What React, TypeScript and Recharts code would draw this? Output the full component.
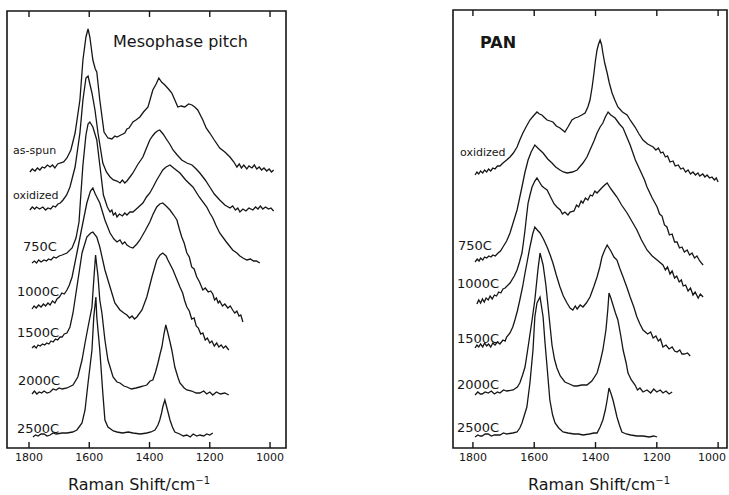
import React from 'react';
import { LineChart, Line, XAxis, YAxis, ReferenceArea, ReferenceLine } from 'recharts';

type Pt = [number, number];

// Raman shift tick values (cm^-1)
const shiftTicks = [1800, 1600, 1400, 1200, 1000];

// ---------- Mesophase pitch fibres: [shift, intensity above own baseline] ----------
const pitchLabels = ['as-spun', 'oxidized', '750C', '1000C', '1500C', '2000C', '2500C'];
const pitchOffsets = [276, 238, 185, 139, 100, 54, 10];

const mpAsSpun: Pt[] = [[1797,0],[1789,3],[1780,1],[1772,4],[1764,2],[1756,5],[1748,4],[1739,7],[1730,5],[1722,7],[1714,4],[1705,8],[1697,9],[1685,10],[1674,14],[1661,22],[1647,39],[1631,72],[1621,112],[1611,135],[1604,143],[1598,135],[1588,112],[1580,103],[1575,100],[1565,72],[1551,40],[1538,34],[1525,33],[1515,36],[1508,35],[1495,37],[1482,39],[1475,43],[1468,44],[1455,50],[1445,52],[1432,55],[1420,60],[1405,65],[1389,82],[1378,88],[1369,94],[1360,90],[1349,87],[1337,83],[1326,79],[1316,72],[1306,65],[1295,66],[1283,65],[1270,68],[1259,67],[1250,65],[1240,62],[1223,52],[1212,44],[1200,39],[1185,32],[1167,24],[1150,20],[1133,15],[1120,10],[1110,5],[1102,8],[1095,4],[1087,7],[1077,3],[1070,6],[1060,4],[1052,7],[1044,3],[1036,5],[1028,2],[1020,4],[1011,1],[1003,3],[995,0],[988,2]];
const mpOxidized: Pt[] = [[1797,0],[1789,3],[1781,1],[1775,3],[1765,1],[1754,3],[1745,0],[1737,2],[1728,1],[1720,4],[1712,3],[1704,6],[1696,7],[1687,10],[1675,15],[1664,23],[1647,43],[1631,77],[1621,110],[1611,132],[1604,134],[1598,126],[1591,117],[1581,100],[1571,77],[1555,47],[1543,38],[1531,33],[1520,30],[1508,29],[1498,27],[1490,30],[1482,27],[1475,29],[1465,33],[1455,37],[1440,45],[1422,53],[1410,62],[1399,70],[1390,74],[1382,77],[1374,79],[1366,80],[1355,76],[1342,70],[1333,66],[1322,60],[1308,55],[1293,50],[1276,47],[1259,45],[1245,41],[1233,37],[1215,30],[1200,23],[1185,16],[1167,10],[1150,5],[1133,2],[1124,4],[1115,0],[1107,2],[1100,-2],[1090,1],[1080,-1],[1070,2],[1057,0],[1048,3],[1040,1],[1032,4],[1024,1],[1015,3],[1005,1],[997,2],[988,-1]];
const mp750: Pt[] = [[1790,0],[1782,2],[1775,0],[1768,3],[1760,1],[1750,3],[1742,2],[1735,4],[1727,3],[1718,6],[1710,5],[1700,7],[1690,8],[1674,10],[1657,15],[1644,25],[1634,41],[1628,68],[1621,98],[1611,128],[1604,139],[1598,141],[1588,136],[1575,123],[1565,98],[1553,68],[1540,56],[1531,51],[1525,53],[1520,48],[1513,50],[1508,46],[1500,49],[1490,47],[1482,50],[1475,48],[1465,51],[1455,51],[1440,55],[1422,60],[1410,66],[1399,70],[1388,76],[1376,83],[1366,88],[1356,93],[1345,96],[1332,98],[1320,95],[1299,90],[1280,83],[1256,76],[1235,66],[1210,56],[1200,50],[1190,45],[1180,38],[1167,30],[1145,21],[1124,13],[1110,10],[1100,7],[1090,5],[1077,3],[1065,4],[1055,2],[1045,2],[1034,0]];
const mp1000: Pt[] = [[1790,0],[1783,3],[1776,1],[1768,4],[1760,2],[1752,5],[1745,3],[1737,6],[1730,4],[1722,8],[1714,6],[1707,10],[1699,12],[1691,16],[1683,15],[1674,19],[1666,24],[1657,32],[1641,56],[1624,82],[1608,106],[1596,118],[1588,121],[1580,115],[1565,106],[1548,89],[1531,76],[1518,70],[1508,67],[1498,69],[1490,65],[1482,67],[1475,64],[1465,62],[1455,61],[1442,65],[1432,69],[1415,78],[1399,87],[1388,95],[1376,102],[1366,105],[1356,106],[1345,103],[1332,99],[1320,94],[1309,89],[1301,80],[1293,72],[1285,66],[1276,56],[1268,52],[1260,42],[1252,40],[1243,32],[1234,27],[1223,19],[1215,21],[1205,17],[1197,18],[1190,15],[1184,9],[1178,11],[1172,6],[1167,8],[1158,3],[1150,5],[1140,1],[1132,3],[1124,-1],[1117,-4],[1110,-2],[1103,-7],[1097,-6],[1090,-13]];
const mp1500: Pt[] = [[1790,0],[1783,2],[1776,0],[1770,3],[1763,2],[1755,4],[1748,3],[1741,5],[1734,4],[1727,7],[1720,6],[1712,9],[1705,8],[1697,11],[1690,11],[1683,14],[1674,15],[1664,21],[1654,35],[1641,61],[1624,95],[1608,111],[1595,115],[1588,116],[1575,111],[1565,101],[1548,78],[1531,61],[1515,45],[1498,38],[1485,35],[1475,33],[1466,30],[1458,32],[1450,29],[1442,31],[1425,38],[1409,51],[1392,71],[1376,88],[1365,93],[1356,95],[1345,92],[1339,88],[1322,78],[1299,61],[1290,55],[1283,47],[1276,41],[1268,37],[1260,29],[1252,30],[1245,22],[1238,20],[1230,14],[1223,15],[1215,8],[1208,10],[1200,5],[1193,7],[1185,2],[1177,5],[1170,1],[1162,3],[1155,0],[1147,2],[1137,-2]];
const mp2000: Pt[] = [[1790,0],[1782,3],[1774,0],[1766,2],[1758,1],[1750,3],[1740,1],[1730,2],[1720,5],[1710,4],[1700,6],[1690,5],[1674,6],[1654,9],[1638,17],[1624,34],[1614,51],[1604,67],[1591,87],[1585,114],[1579,139],[1575,128],[1571,118],[1565,94],[1558,81],[1548,54],[1538,34],[1521,17],[1508,12],[1498,11],[1485,8],[1475,7],[1460,5],[1445,6],[1432,7],[1420,8],[1409,9],[1398,13],[1389,14],[1380,22],[1372,31],[1365,40],[1359,47],[1352,60],[1346,69],[1339,61],[1332,52],[1326,44],[1316,27],[1305,16],[1299,11],[1285,6],[1276,4],[1260,3],[1245,1],[1233,1],[1220,3],[1210,0],[1200,2],[1190,-1],[1178,2],[1165,0],[1150,1],[1137,-1]];
const mp2500: Pt[] = [[1787,1],[1778,3],[1770,2],[1760,4],[1750,4],[1740,2],[1730,3],[1720,5],[1710,4],[1690,5],[1674,5],[1655,6],[1641,8],[1624,15],[1614,28],[1604,55],[1591,88],[1585,121],[1578,141],[1575,121],[1565,88],[1555,45],[1548,18],[1538,11],[1520,7],[1508,6],[1490,5],[1470,6],[1455,5],[1430,4],[1409,5],[1395,6],[1382,8],[1372,13],[1366,18],[1360,25],[1356,31],[1349,38],[1343,31],[1337,24],[1332,18],[1324,11],[1316,6],[1300,4],[1288,2],[1276,3],[1265,1],[1255,4],[1243,2],[1233,3],[1220,2],[1210,4],[1200,3],[1190,5]];

const pitchSpectra = [mpAsSpun, mpOxidized, mp750, mp1000, mp1500, mp2000, mp2500];

// ---------- PAN fibres ----------
const panLabels = ['oxidized', '750C', '1000C', '1500C', '2000C', '2500C'];
const panOffsets = [273, 186, 144, 99, 53, 11];

const panOx: Pt[] = [[1793,0],[1787,3],[1781,1],[1775,4],[1768,2],[1762,5],[1755,3],[1749,6],[1742,4],[1735,7],[1728,6],[1720,9],[1712,9],[1702,12],[1690,15],[1679,18],[1668,22],[1656,28],[1647,35],[1637,42],[1625,49],[1614,55],[1603,59],[1591,63],[1583,61],[1575,60],[1565,57],[1558,55],[1548,54],[1539,53],[1528,49],[1516,47],[1508,45],[1500,43],[1490,48],[1477,55],[1467,57],[1457,58],[1445,60],[1434,62],[1425,68],[1418,75],[1411,88],[1405,102],[1400,115],[1395,125],[1390,131],[1385,135],[1380,130],[1376,122],[1370,112],[1362,102],[1355,92],[1346,82],[1337,75],[1327,68],[1312,63],[1297,60],[1285,54],[1271,48],[1258,41],[1245,35],[1230,31],[1212,28],[1203,25],[1195,27],[1187,22],[1180,23],[1172,18],[1165,19],[1157,13],[1147,14],[1140,9],[1130,10],[1122,6],[1114,7],[1106,3],[1098,5],[1090,1],[1082,3],[1074,0],[1066,2],[1060,-1],[1050,1],[1043,-2],[1036,0],[1028,-3],[1020,-2],[1012,-5],[1006,-3],[1000,-7]];
const pan750: Pt[] = [[1793,0],[1786,3],[1780,1],[1775,4],[1768,2],[1762,5],[1755,4],[1748,6],[1741,5],[1735,7],[1727,6],[1718,9],[1710,11],[1702,15],[1690,21],[1679,29],[1668,40],[1656,52],[1640,75],[1630,90],[1620,102],[1610,110],[1598,117],[1585,113],[1571,109],[1556,103],[1542,99],[1530,95],[1516,92],[1505,90],[1493,89],[1475,90],[1460,92],[1441,99],[1428,105],[1418,112],[1405,121],[1395,129],[1385,135],[1376,139],[1368,145],[1359,150],[1350,147],[1336,144],[1322,138],[1310,134],[1298,125],[1287,117],[1270,102],[1255,92],[1240,82],[1232,75],[1215,64],[1199,55],[1191,48],[1183,46],[1175,37],[1167,35],[1159,27],[1150,28],[1142,20],[1134,20],[1126,14],[1118,15],[1110,10],[1101,12],[1093,7],[1085,9],[1077,4],[1069,6],[1060,1],[1049,-3]];
const pan1000: Pt[] = [[1787,0],[1781,4],[1775,1],[1769,5],[1763,2],[1757,6],[1750,4],[1744,8],[1737,5],[1730,9],[1723,8],[1716,12],[1709,11],[1702,15],[1695,16],[1679,21],[1665,28],[1656,34],[1648,42],[1640,51],[1635,62],[1630,74],[1625,88],[1620,101],[1613,110],[1607,117],[1598,123],[1591,126],[1583,122],[1575,118],[1567,116],[1558,114],[1545,106],[1535,100],[1526,97],[1515,94],[1508,90],[1500,92],[1490,89],[1483,92],[1470,93],[1462,99],[1455,97],[1447,103],[1441,101],[1433,106],[1425,104],[1417,109],[1410,108],[1402,113],[1395,111],[1380,116],[1370,119],[1362,121],[1352,116],[1340,111],[1330,107],[1315,99],[1297,91],[1280,82],[1265,74],[1250,64],[1232,54],[1215,48],[1199,44],[1180,39],[1172,34],[1165,37],[1157,30],[1150,33],[1142,26],[1135,28],[1127,22],[1120,24],[1114,18],[1106,19],[1098,13],[1090,16],[1082,9],[1075,12],[1065,6],[1058,10],[1049,7]];
const pan1500: Pt[] = [[1793,1],[1787,4],[1781,2],[1775,5],[1768,2],[1762,6],[1755,3],[1749,5],[1742,2],[1735,6],[1728,4],[1720,7],[1712,5],[1702,9],[1695,8],[1690,12],[1679,16],[1670,22],[1663,29],[1655,38],[1647,49],[1638,62],[1630,76],[1622,89],[1614,102],[1605,115],[1598,122],[1590,119],[1581,116],[1570,110],[1558,102],[1548,94],[1539,86],[1528,74],[1516,62],[1505,53],[1493,46],[1483,41],[1474,39],[1466,43],[1460,40],[1450,44],[1441,42],[1430,46],[1418,52],[1406,62],[1395,72],[1386,82],[1379,92],[1370,99],[1362,104],[1350,98],[1340,92],[1330,89],[1320,80],[1310,72],[1298,62],[1287,52],[1275,42],[1265,32],[1255,25],[1245,19],[1230,15],[1220,17],[1212,11],[1203,13],[1195,8],[1188,10],[1180,2],[1170,4],[1160,0],[1150,2],[1142,-2],[1134,-3],[1125,-1],[1118,-5],[1110,-5],[1100,-4],[1091,-7]];
const pan2000: Pt[] = [[1793,0],[1784,3],[1776,1],[1770,1],[1760,3],[1750,2],[1740,4],[1730,1],[1720,3],[1712,2],[1700,5],[1690,4],[1669,5],[1655,8],[1647,12],[1638,20],[1630,28],[1620,48],[1607,75],[1598,95],[1588,125],[1581,142],[1576,136],[1571,130],[1562,110],[1552,80],[1542,50],[1534,36],[1526,27],[1515,19],[1500,13],[1485,11],[1470,9],[1460,9],[1445,10],[1428,10],[1412,14],[1395,22],[1385,33],[1376,45],[1366,65],[1360,85],[1356,102],[1350,97],[1343,90],[1335,82],[1327,75],[1318,60],[1310,45],[1300,32],[1294,22],[1283,15],[1271,10],[1263,5],[1255,7],[1245,3],[1232,5],[1220,2],[1210,6],[1200,3],[1189,5],[1180,2],[1170,4],[1160,1],[1150,3]];
const pan2500: Pt[] = [[1793,0],[1784,2],[1776,1],[1770,1],[1760,3],[1750,3],[1740,1],[1730,2],[1712,2],[1700,4],[1690,3],[1670,4],[1656,5],[1647,9],[1640,14],[1632,22],[1624,30],[1614,54],[1604,87],[1598,120],[1591,134],[1581,140],[1575,128],[1571,120],[1565,95],[1558,70],[1549,37],[1540,22],[1532,14],[1520,9],[1506,5],[1490,4],[1470,3],[1455,3],[1441,2],[1420,3],[1405,4],[1395,4],[1385,10],[1376,17],[1368,27],[1362,37],[1356,49],[1349,43],[1343,37],[1336,28],[1330,20],[1322,12],[1314,5],[1300,3],[1285,2],[1265,1],[1245,1],[1225,0],[1210,1],[1199,0]];

const panSpectra = [panOx, pan750, pan1000, pan1500, pan2000, pan2500];

// ---------- layout (not data) ----------
const FONT = '"DejaVu Sans", "Liberation Sans", sans-serif';
const INK = '#161616';
const TICK_LEN = 6;

type LabelPos = { left: number; top: number; size: number };
const pitchLabelPos: LabelPos[] = [
  { left: 13, top: 145, size: 11 },
  { left: 13, top: 190, size: 11 },
  { left: 23, top: 240, size: 13 },
  { left: 17, top: 285, size: 13 },
  { left: 17, top: 326, size: 13 },
  { left: 18, top: 374, size: 13 },
  { left: 17, top: 422, size: 13 },
];
const panLabelPos: LabelPos[] = [
  { left: 460, top: 147, size: 11 },
  { left: 458, top: 239, size: 13 },
  { left: 457, top: 277, size: 13 },
  { left: 457, top: 332, size: 13 },
  { left: 457, top: 378, size: 13 },
  { left: 457, top: 421, size: 13 },
];

function rows(spec: Pt[], offset: number) {
  return spec.map(([shift, value]) => ({ shift, signal: value + offset }));
}

function ShiftTick(props: any) {
  const { x, y, payload, edgeShift } = props;
  const dx = payload.value === 1000 ? edgeShift : 0;
  return (
    <text x={x + dx} y={y} dy="0.71em" textAnchor="middle" fontSize={11} fill={INK} fontFamily={FONT}>
      {payload.value}
    </text>
  );
}

type PanelProps = {
  left: number;
  width: number;
  margin: { top: number; right: number; bottom: number; left: number };
  domain: [number, number];
  yMax: number;
  spectra: Pt[][];
  offsets: number[];
  edgeShift: number;
};

function Panel({ left, width, margin, domain, yMax, spectra, offsets, edgeShift }: PanelProps) {
  return (
    <div style={{ position: 'absolute', left, top: 0 }}>
      <LineChart width={width} height={495} margin={margin}>
        <XAxis
          dataKey="shift"
          type="number"
          domain={domain}
          reversed
          allowDataOverflow
          ticks={shiftTicks}
          interval={0}
          orientation="bottom"
          height={30}
          tickSize={0}
          tickMargin={5}
          axisLine={false}
          tickLine={false}
          tick={(p: any) => <ShiftTick {...p} edgeShift={edgeShift} />}
        />
        <YAxis type="number" domain={[0, yMax]} hide allowDataOverflow />
        <ReferenceArea
          x1={domain[0]}
          x2={domain[1]}
          y1={0}
          y2={yMax}
          fill="none"
          fillOpacity={0}
          stroke={INK}
          strokeWidth={1.6}
          ifOverflow="visible"
        />
        {shiftTicks.map((t) => (
          <ReferenceLine
            key={'b' + t}
            segment={[{ x: t, y: 0 }, { x: t, y: TICK_LEN }]}
            stroke={INK}
            strokeWidth={1.4}
            ifOverflow="visible"
          />
        ))}
        {shiftTicks.map((t) => (
          <ReferenceLine
            key={'t' + t}
            segment={[{ x: t, y: yMax }, { x: t, y: yMax - TICK_LEN }]}
            stroke={INK}
            strokeWidth={1.4}
            ifOverflow="visible"
          />
        ))}
        {spectra.map((spec, i) => (
          <Line
            key={i}
            data={rows(spec, offsets[i])}
            dataKey="signal"
            type="linear"
            stroke={INK}
            strokeWidth={1.3}
            dot={false}
            activeDot={false}
            isAnimationActive={false}
          />
        ))}
      </LineChart>
    </div>
  );
}

function Txt({ left, top, size, children, bold, width, align }: any) {
  return (
    <div
      style={{
        position: 'absolute',
        left,
        top,
        width,
        textAlign: align || 'left',
        fontFamily: FONT,
        fontSize: size,
        lineHeight: `${size}px`,
        fontWeight: bold ? 'bold' : 'normal',
        color: INK,
        whiteSpace: 'nowrap',
      }}
    >
      {children}
    </div>
  );
}

export default function App() {
  return (
    <div style={{ position: 'absolute', left: 0, top: 0, width: 729, height: 495, background: '#fff', overflow: 'hidden' }}>
      <Panel
        left={0}
        width={300}
        margin={{ top: 11, right: 14, bottom: 17, left: 7 }}
        domain={[947, 1873]}
        yMax={437}
        spectra={pitchSpectra}
        offsets={pitchOffsets}
        edgeShift={0}
      />
      <Panel
        left={440}
        width={289}
        margin={{ top: 10, right: 2, bottom: 17, left: 13 }}
        domain={[971, 1865]}
        yMax={438}
        spectra={panSpectra}
        offsets={panOffsets}
        edgeShift={-6}
      />
      <Txt left={113} top={33.5} size={16}>Mesophase pitch</Txt>
      <Txt left={480} top={34.5} size={16} bold>PAN</Txt>
      {pitchLabels.map((t, i) => (
        <Txt key={'p' + i} left={pitchLabelPos[i].left} top={pitchLabelPos[i].top} size={pitchLabelPos[i].size}>{t}</Txt>
      ))}
      {panLabels.map((t, i) => (
        <Txt key={'n' + i} left={panLabelPos[i].left} top={panLabelPos[i].top} size={panLabelPos[i].size}>{t}</Txt>
      ))}
      <Txt left={39} top={476.5} size={16} width={200} align="center">
        Raman Shift/cm<sup style={{ fontSize: 10, lineHeight: 0 }}>−1</sup>
      </Txt>
      <Txt left={499} top={476.5} size={16} width={200} align="center">
        Raman Shift/cm<sup style={{ fontSize: 10, lineHeight: 0 }}>−1</sup>
      </Txt>
    </div>
  );
}
